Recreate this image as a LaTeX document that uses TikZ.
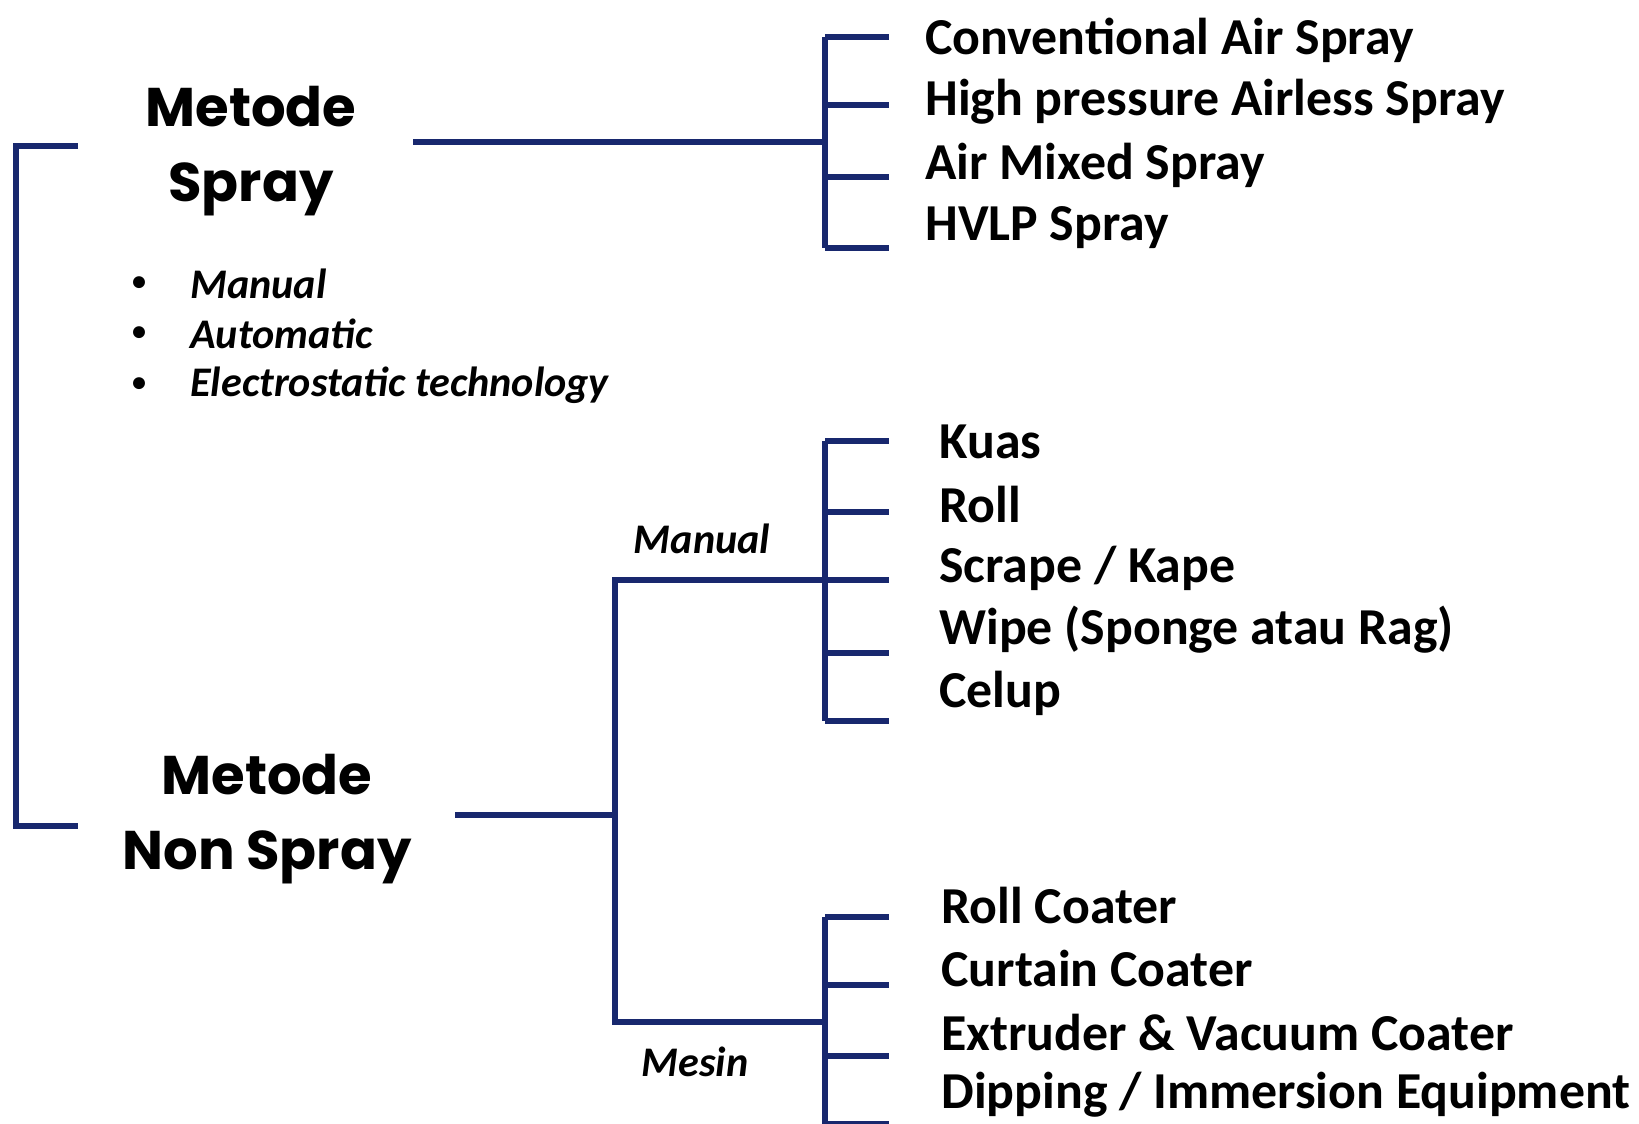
\documentclass[tikz,border=0pt]{standalone}
\usepackage{fontspec}
\setmainfont{Carlito}
\newfontfamily\titlefont{Poppins}
\definecolor{navy}{RGB}{24,40,110}

\begin{document}
\begin{tikzpicture}[x=0.02cm, y=-0.02cm,
    branch/.style={draw=navy, line width=3.6pt},
    title/.style={font=\titlefont\bfseries\fontsize{31}{43}\selectfont, align=center, inner sep=0pt},
    item/.style={anchor=west, font=\bfseries\fontsize{29.5}{34}\selectfont, inner sep=0pt},
    note/.style={anchor=west, font=\bfseries\itshape\fontsize{24}{28}\selectfont, inner sep=0pt}]
    \useasboundingbox[fill=white] (0,0) rectangle (1639,1124);

    % Main headings
    \node[title] (spray) at (251,151) {Metode\\Spray};
    \node[title] (nonspray) at (267,819) {Metode\\Non Spray};

    % Left bracket
    \coordinate (lt) at (16,146);
    \coordinate (lb) at (16,826);
    \draw[branch] (78,146) -- (lt) -- (lb) -- (78,826);

    % Spray types
    \coordinate (sj) at (825,142);
    \draw[branch] (413,142) -- (sj);
    \draw[branch] (825,37) -- (825,248);
    \foreach \ty/\ly/\txt [count=\i] in {37/40/Conventional Air Spray, 105/102/High pressure Airless Spray,
        177/165/Air Mixed Spray, 248/228/HVLP Spray} {
        \draw[branch] (825,\ty) -- (889,\ty);
        \node[item] (s\i) at (925,\ly) {\txt};
    }

    % Spray modes
    \foreach \ly/\txt [count=\i] in {284/Manual, 334/Automatic, 385/Electrostatic technology} {
        \node[font=\bfseries\fontsize{16}{20}\selectfont, inner sep=0pt] (d\i) at (139,\ly) {\textbullet};
        \node[note] (m\i) at (190,\ly) {\txt};
    }

    % Non spray split
    \coordinate (nj) at (615,815);
    \coordinate (mj) at (825,580);
    \coordinate (ej) at (825,1022);
    \draw[branch] (455,815) -- (nj);
    \draw[branch] (mj) -| (nj) |- (ej);
    \node[note, anchor=center] (manual) at (702,539) {Manual};
    \node[note, anchor=center] (mesin) at (695,1062) {Mesin};

    % Manual tools
    \draw[branch] (825,441) -- (825,721);
    \foreach \ty/\ly/\txt [count=\i] in {441/442/Kuas, 512/505/Roll, 580/568/{Scrape / Kape},
        653/630/Wipe (Sponge atau Rag), 721/693/Celup} {
        \draw[branch] (825,\ty) -- (889,\ty);
        \node[item] (k\i) at (939,\ly) {\txt};
    }

    % Machine tools
    \draw[branch] (825,917) -- (825,1130);
    \foreach \ty/\ly/\txt [count=\i] in {917/906/Roll Coater, 985/969/Curtain Coater,
        1056/1032/Extruder \& Vacuum Coater, 1124/1095/{Dipping / Immersion Equipment}} {
        \draw[branch] (825,\ty) -- (889,\ty);
        \node[item] (e\i) at (941,\ly) {\txt};
    }
\end{tikzpicture}
\end{document}
